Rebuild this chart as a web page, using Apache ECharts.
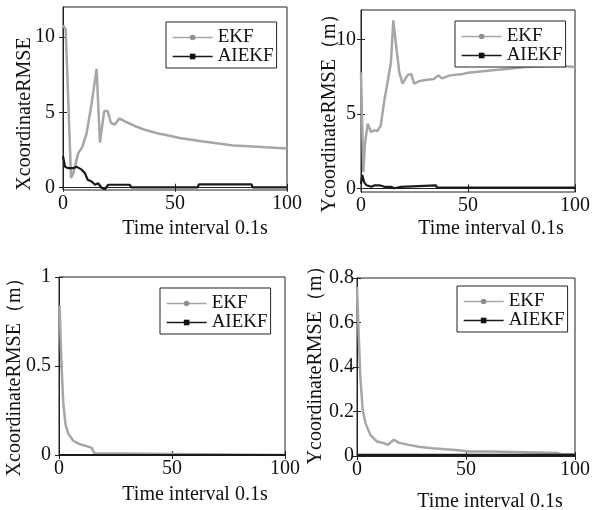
<!DOCTYPE html>
<html><head><meta charset="utf-8">
<script src="https://cdn.jsdelivr.net/npm/echarts@6/dist/echarts.min.js"></script>
<style>html,body{margin:0;padding:0;background:#fff}#c{width:593px;height:510px}</style>
</head><body><div id="c"></div>
<script>
const xTicks = [0, 50, 100];
const xTitle = 'Time interval 0.1s';
const legendNames = ['EKF', 'AIEKF'];

// Panel 1: X coordinate RMSE
const p1Title = 'XcoordinateRMSE';
const p1YTicks = [0, 5, 10];
const p1EkfT = [0, 1.2, 3.6, 4.6, 6.8, 8.6, 10.5, 12.8, 15, 16.5, 18.4, 19.9, 21.4, 23.2, 25.1, 27.6, 32, 36.5, 42.5, 46, 52, 61, 76, 83, 100];
const p1EkfV = [10.8, 10.5, 0.64, 0.97, 2.3, 2.7, 3.6, 5.6, 7.9, 3.0, 5.1, 5.1, 4.3, 4.2, 4.6, 4.4, 4.1, 3.85, 3.6, 3.5, 3.3, 3.1, 2.8, 2.75, 2.6];
const p1AiT = [0, 0.9, 2.4, 4.6, 6, 8.3, 9.8, 11, 12.8, 14.3, 15.7, 17.2, 18.7, 20.2, 29.8, 30.4, 60.2, 60.6, 84.2, 84.6, 100];
const p1AiV = [2.1, 1.4, 1.3, 1.3, 1.4, 1.2, 0.97, 0.53, 0.42, 0.2, 0.3, 0, -0.1, 0.2, 0.2, 0.03, 0.03, 0.22, 0.22, 0.03, 0.03];

// Panel 2: Y coordinate RMSE
const p2Title = 'YcoordinateRMSE（m）';
const p2YTicks = [0, 5, 10];
const p2EkfT = [0, 1.1, 1.8, 3.1, 4.6, 6.1, 7.6, 9.2, 11, 12.5, 14, 15.1, 16.4, 17.9, 19.4, 21.7, 23.5, 24.8, 27, 30.9, 34, 36.2, 37.8, 41.6, 47.7, 50, 61.5, 69, 76.8, 92, 100];
const p2EkfV = [7.8, 1.1, 2.9, 4.35, 3.8, 3.9, 3.85, 4.2, 6, 7.2, 8.5, 11.3, 9.6, 7.8, 7.05, 7.6, 7.7, 7.05, 7.2, 7.3, 7.35, 7.6, 7.4, 7.6, 7.7, 7.77, 7.95, 8.05, 8.17, 8.24, 8.17];
const p2AiT = [0, 0.6, 1.5, 2.6, 4.9, 6.4, 8.7, 11, 14, 15.6, 18.7, 19.5, 35, 35.5, 100];
const p2AiV = [0.3, 0.9, 0.4, 0.2, 0.1, 0.2, 0.2, 0.1, 0.1, 0, 0.1, 0.2, 0.2, 0.05, 0.05];

// Panel 3: X coordinate RMSE (m)
const p3Title = 'XcoordinateRMSE（m）';
const p3YTicks = [0, 0.5, 1];
const p3EkfT = [0.3, 0.7, 1.2, 1.9, 2.9, 4.1, 6.3, 9.3, 12.2, 14.5, 15.6, 16, 100];
const p3EkfV = [0.84, 0.66, 0.48, 0.29, 0.17, 0.12, 0.08, 0.06, 0.05, 0.04, 0.01, 0, 0];
const p3AiT = [0, 50, 100];
const p3AiV = [0, 0, 0];

// Panel 4: Y coordinate RMSE (m)
const p4Title = 'YcoordinateRMSE（m）';
const p4YTicks = [0, 0.2, 0.4, 0.6, 0.8];
const p4EkfT = [0, 0.8, 1.5, 2.6, 3.8, 6.1, 9.2, 12.2, 14.2, 16.8, 19.1, 23.7, 28.3, 34.4, 40.5, 46.6, 51, 61, 61.8, 92, 94, 100];
const p4EkfV = [0.76, 0.54, 0.36, 0.21, 0.15, 0.095, 0.065, 0.058, 0.05, 0.073, 0.06, 0.05, 0.042, 0.035, 0.03, 0.026, 0.02, 0.02, 0.014, 0.014, 0.008, 0.008];
const p4AiT = [0, 50, 100];
const p4AiV = [0.005, 0.005, 0.005];

const FONT = '"Liberation Serif","Times New Roman",serif';
const pair = (t, v) => t.map((x, i) => [x, v[i]]);

const panels = [
  {grid: {left: 63, top: 7, width: 224, height: 183}, yMin: -0.15, yMax: 12, yTicks: p1YTicks, ekf: pair(p1EkfT, p1EkfV), ai: pair(p1AiT, p1AiV), title: p1Title, lm: 8,
   legend: {left: 166, top: 22}, yt: {x: 25, y: 114}, xt: {x: 195, y: 229}},
  {grid: {left: 361, top: 10, width: 218, height: 182}, yMin: -0.25, yMax: 12, yTicks: p2YTicks, ekf: pair(p2EkfT, p2EkfV), ai: pair(p2AiT, p2AiV), title: p2Title, lm: 5,
   legend: {left: 455, top: 21}, yt: {x: 330, y: 108}, xt: {x: 491, y: 229}},
  {grid: {left: 59, top: 277, width: 226, height: 178}, yMin: 0, yMax: 1, yTicks: p3YTicks, ekf: pair(p3EkfT, p3EkfV), ai: pair(p3AiT, p3AiV), title: p3Title, lm: 8,
   legend: {left: 160, top: 288}, yt: {x: 15, y: 372}, xt: {x: 195, y: 495}},
  {grid: {left: 357, top: 278, width: 218, height: 178}, yMin: 0, yMax: 0.8, yTicks: p4YTicks, ekf: pair(p4EkfT, p4EkfV), ai: pair(p4AiT, p4AiV), title: p4Title, lm: 3,
   legend: {left: 457, top: 286}, yt: {x: 316, y: 360}, xt: {x: 490, y: 502}}
];

const tickStyle = {inside: true, length: 4, lineStyle: {color: '#222', width: 1}};
const lineStyle = {lineStyle: {color: '#222', width: 1}};
const labelStyle = {fontFamily: FONT, fontSize: 20, color: '#111'};

const option = {
  backgroundColor: '#fff',
  animation: false,
  grid: [], xAxis: [], yAxis: [], series: [], legend: [], graphic: []
};

panels.forEach((p, i) => {
  option.grid.push(Object.assign({show: true, borderColor: '#222', borderWidth: 1, backgroundColor: '#fff'}, p.grid));
  option.xAxis.push({type: 'value', gridIndex: i, min: 0, max: 100, position: 'bottom',
    axisLine: lineStyle, splitLine: {show: false},
    axisTick: Object.assign({customValues: xTicks}, tickStyle),
    axisLabel: Object.assign({customValues: xTicks, margin: 4}, labelStyle)});
  option.xAxis.push({type: 'value', gridIndex: i, min: 0, max: 100, position: 'top',
    axisLine: lineStyle, splitLine: {show: false},
    axisTick: Object.assign({customValues: xTicks}, tickStyle), axisLabel: {show: false}});
  option.yAxis.push({type: 'value', gridIndex: i, min: p.yMin, max: p.yMax, position: 'left',
    axisLine: lineStyle, splitLine: {show: false},
    axisTick: Object.assign({customValues: p.yTicks}, tickStyle),
    axisLabel: Object.assign({customValues: p.yTicks, margin: p.lm}, labelStyle)});
  option.yAxis.push({type: 'value', gridIndex: i, min: p.yMin, max: p.yMax, position: 'right',
    axisLine: lineStyle, splitLine: {show: false},
    axisTick: Object.assign({customValues: p.yTicks}, tickStyle), axisLabel: {show: false}});
  option.series.push({name: 'EKF', type: 'line', xAxisIndex: 2 * i, yAxisIndex: 2 * i,
    data: p.ekf, showSymbol: false, symbol: 'circle', symbolSize: 8, z: 2,
    itemStyle: {color: '#8f8f8f'}, lineStyle: {color: '#a6a6a6', width: 2.5}});
  option.series.push({name: 'AIEKF', type: 'line', xAxisIndex: 2 * i, yAxisIndex: 2 * i,
    data: p.ai, showSymbol: false, symbol: 'rect', symbolSize: 4, z: 3,
    itemStyle: {color: '#111'}, lineStyle: {color: '#1a1a1a', width: 2.2}});
  option.legend.push({data: legendNames, orient: 'vertical', left: p.legend.left, top: p.legend.top,
    padding: [6, 3, 2, 6], itemGap: 0, itemWidth: 40, itemHeight: 7,
    lineStyle: {width: 1.3},
    borderColor: '#222', borderWidth: 1, backgroundColor: '#fff',
    textStyle: {fontFamily: FONT, fontSize: 19, color: '#111', lineHeight: 16}});
  option.graphic.push({type: 'text', x: p.yt.x, y: p.yt.y, rotation: Math.PI / 2,
    style: {text: p.title, font: '20px ' + FONT, fill: '#111', textAlign: 'center', textVerticalAlign: 'middle'}});
  option.graphic.push({type: 'text', x: p.xt.x, y: p.xt.y,
    style: {text: xTitle, font: '20px ' + FONT, fill: '#111', textAlign: 'center', textVerticalAlign: 'middle'}});
});

const chart = echarts.init(document.getElementById('c'), null, {renderer: 'canvas'});
chart.setOption(option);
</script>
</body></html>
